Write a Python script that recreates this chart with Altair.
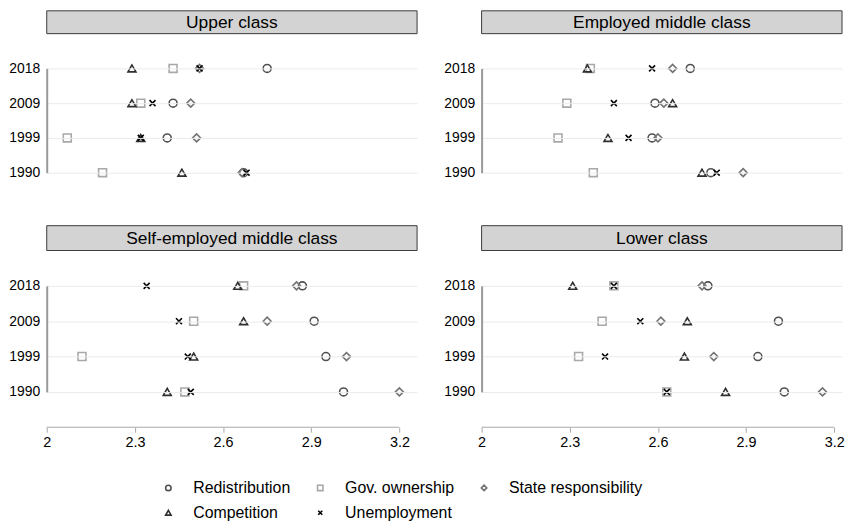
import altair as alt
import pandas as pd

# ---------------- data ----------------
panels = ["Upper class", "Employed middle class", "Self-employed middle class", "Lower class"]
years = ["2018", "2009", "1999", "1990"]
indicators = ["Redistribution", "Gov. ownership", "State responsibility", "Competition", "Unemployment"]
tick_values = [2, 2.3, 2.6, 2.9, 3.2]

# values per indicator (order of `indicators`), each list in order of `years`
upper_class = [
    [2.75, 2.43, 2.41, 2.67],   # Redistribution
    [2.43, 2.32, 2.07, 2.19],   # Gov. ownership
    [2.52, 2.49, 2.51, 2.665],  # State responsibility
    [2.29, 2.29, 2.32, 2.46],   # Competition
    [2.52, 2.36, 2.32, 2.68],   # Unemployment
]
employed_middle_class = [
    [2.71, 2.59, 2.58, 2.78],
    [2.37, 2.29, 2.26, 2.38],
    [2.65, 2.62, 2.60, 2.89],
    [2.36, 2.65, 2.43, 2.75],
    [2.58, 2.45, 2.50, 2.80],
]
self_employed_middle_class = [
    [2.87, 2.91, 2.95, 3.01],
    [2.67, 2.50, 2.12, 2.47],
    [2.85, 2.75, 3.02, 3.20],
    [2.65, 2.67, 2.50, 2.41],
    [2.34, 2.45, 2.48, 2.49],
]
lower_class = [
    [2.77, 3.01, 2.94, 3.03],
    [2.45, 2.41, 2.33, 2.63],
    [2.75, 2.61, 2.79, 3.16],
    [2.31, 2.70, 2.69, 2.83],
    [2.45, 2.54, 2.42, 2.63],
]
panel_values = [upper_class, employed_middle_class, self_employed_middle_class, lower_class]

# ---------------- styles ----------------
colors = ["#505050", "#a8a8a8", "#727272", "#2e2e2e", "#000000"]
x_path = "M-0.75,-0.75L0.75,0.75M0.75,-0.75L-0.75,0.75"
shapes = ["circle", "square", "diamond", "triangle-up", x_path]
stroke_widths = [1.6, 1.6, 1.6, 1.7, 2.3]

FONT = "Liberation Sans"
LEG = dict(orient="none", legendX=114.5, legendY=414.5, columns=3, direction="horizontal")


def make_panel(name, values, width, step, header_h, show_x, x_max):
    rows = []
    for ind, vals in zip(indicators, values):
        for yr, v in zip(years, vals):
            rows.append({"indicator": ind, "year": yr, "value": v})
    df = pd.DataFrame(rows)

    height = step * (len(years) - 1)
    xscale = alt.Scale(domain=[2, x_max], nice=False, zero=False)
    yscale = alt.Scale(type="point", domain=years, padding=0)

    if show_x:
        x_axis = alt.Axis(values=tick_values, format="~g", domain=False, ticks=True,
                          tickSize=5, tickColor="#a8a8a8", tickWidth=1, offset=step,
                          labelFontSize=14.5, labelColor="#000", labelPadding=3,
                          grid=False, title=None, labelFlush=False)
    else:
        x_axis = None
    y_axis = alt.Axis(domain=True, domainColor="#999999", domainWidth=2, domainOpacity=1,
                      ticks=False, grid=True, gridColor="#ebebeb", gridWidth=1,
                      labelFontSize=14, labelColor="#000", labelPadding=7, title=None,
                      zindex=1)

    header_df = pd.DataFrame({"panel": [name]})
    header_rect = alt.Chart(header_df).mark_rect(
        fill="#d3d3d3", stroke="#3a3a3a", strokeWidth=1
    ).encode(
        x=alt.value(0), x2=alt.value(width),
        y=alt.value(-(step + header_h)), y2=alt.value(-step)
    )
    header_text = alt.Chart(header_df).mark_text(
        fontSize=17.5, color="#000", align="center", baseline="middle", font=FONT
    ).encode(
        x=alt.value(width / 2), y=alt.value(-(step + header_h / 2) + 1), text="panel:N"
    )

    points = alt.Chart(df).mark_point(filled=False, size=64, opacity=1).encode(
        x=alt.X("value:Q", scale=xscale, axis=x_axis),
        y=alt.Y("year:O", scale=yscale, axis=y_axis),
        color=alt.Color("indicator:N", scale=alt.Scale(domain=indicators, range=colors), title=None,
                        legend=alt.Legend(**LEG)),
        shape=alt.Shape("indicator:N", scale=alt.Scale(domain=indicators, range=shapes), title=None,
                        legend=alt.Legend(**LEG)),
        strokeWidth=alt.StrokeWidth("indicator:N", scale=alt.Scale(domain=indicators, range=stroke_widths),
                                    title=None, legend=alt.Legend(**LEG)),
    )

    layers = [header_rect, header_text]
    if show_x:
        xaxis_df = pd.DataFrame({"value": [tick_values[0]], "value_end": [tick_values[-1]]})
        xline = alt.Chart(xaxis_df).mark_rule(color="#a8a8a8", strokeWidth=1).encode(
            x=alt.X("value:Q", scale=xscale, axis=x_axis),
            x2="value_end",
            y=alt.value(height + step),
        )
        layers.append(xline)
    layers.append(points)

    return alt.layer(*layers).properties(width=width, height=height)


PX_PER_UNIT = 296.0
LW, RW = 373, 363
p1 = make_panel(panels[0], panel_values[0], LW, 35, 23, False, 2 + LW / PX_PER_UNIT)
p2 = make_panel(panels[1], panel_values[1], RW, 35, 23, False, 2 + RW / PX_PER_UNIT)
p3 = make_panel(panels[2], panel_values[2], LW, 35.6, 25, True, 2 + LW / PX_PER_UNIT)
p4 = make_panel(panels[3], panel_values[3], RW, 35.6, 25, True, 2 + RW / PX_PER_UNIT)

top = alt.hconcat(p1, p2, spacing=25)
bottom = alt.hconcat(p3, p4, spacing=25)

chart = alt.vconcat(top, bottom, spacing=44).properties(
    padding={"left": 0, "top": 0, "right": 0, "bottom": 0}
).configure(
    font=FONT
).configure_view(
    stroke=None
).configure_legend(
    padding=0,
    symbolSize=30,
    labelFontSize=16,
    labelColor="#000",
    labelOffset=17,
    columnPadding=22,
    rowPadding=9,
    symbolFillColor="transparent",
    gridAlign="each",
)

chart.save("out.html", embed_options={"renderer": "svg", "actions": False})
